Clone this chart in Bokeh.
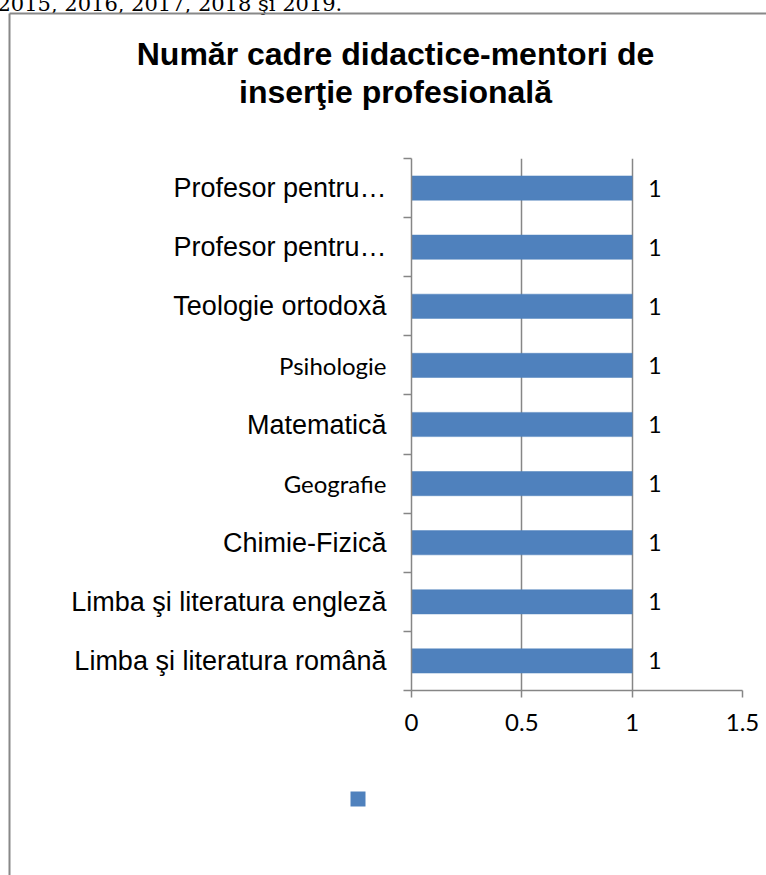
from bokeh.plotting import figure
from bokeh.models import Range1d, FixedTicker, NumeralTickFormatter, ColumnDataSource
from bokeh.core.properties import value
from bokeh.embed import file_html
from bokeh.resources import INLINE

# ---------------- data (top to bottom, as read) ----------------
categories = [
    "Profesor pentru\u2026",
    "Profesor pentru\u2026",
    "Teologie ortodox\u0103",
    "Psihologie",
    "Matematic\u0103",
    "Geografie",
    "Chimie-Fizic\u0103",
    "Limba \u015fi literatura englez\u0103",
    "Limba \u015fi literatura rom\u00e2n\u0103",
]
counts = [1, 1, 1, 1, 1, 1, 1, 1, 1]
label_fonts = ["Liberation Sans", "Liberation Sans", "Liberation Sans", "Lato",
               "Liberation Sans", "Lato", "Liberation Sans", "Liberation Sans",
               "Liberation Sans"]
label_sizes = ["27px", "27px", "27px", "24px", "27px", "24px", "27px", "27px", "27px"]
x_ticks = [0, 0.5, 1, 1.5]
title_lines = ["Num\u0103r cadre didactice-mentori de", "inser\u0163ie profesional\u0103"]
header_text = "2015, 2016, 2017, 2018 \u015fi 2019."

# ---------------- layout constants (page pixels) ----------------
W, H = 766, 875
FX0, FX1 = 411, 742      # frame left/right
FY0, FY1 = 158, 690      # frame top/bottom
n = len(categories)
XMAX = x_ticks[-1]


def px_x(px):
    return (px - FX0) / (FX1 - FX0) * XMAX


def px_y(py):
    return (FY1 - py) / (FY1 - FY0) * n


GRAY = "#868686"
BLUE = "#4F81BD"

p = figure(width=W, height=H, output_backend="svg", toolbar_location=None, tools="",
           x_range=Range1d(0, XMAX), y_range=Range1d(0, n),
           min_border_left=FX0, min_border_right=W - FX1,
           min_border_top=FY0, min_border_bottom=H - FY1)
p.outline_line_color = None
p.background_fill_color = "white"
p.border_fill_color = "white"

centers = [n - i - 0.5 for i in range(n)]
src = ColumnDataSource(dict(y=centers, v=counts, cat=categories,
                            font=label_fonts, fs=label_sizes,
                            vt=[str(c) for c in counts],
                            x0=[0] * n))

bars = p.hbar(y="y", right="v", left=0, height=0.41, source=src,
              fill_color=BLUE, line_color=BLUE, line_width=0.5)

# value labels
p.text(x="v", y="y", text="vt", source=src, x_offset=16, text_baseline="middle",
       text_align="left", text_font=value("Lato"), text_font_size="23px",
       text_color="black")

# category labels (mixed fonts as in the original)
p.text(x="x0", y="y", text="cat", source=src, x_offset=-25, text_align="right",
       text_baseline="middle", text_font="font", text_font_size="fs",
       text_color="black", level="overlay")

# axes
xa = p.xaxis[0]
xa.ticker = FixedTicker(ticks=x_ticks)
xa.formatter = NumeralTickFormatter(format="0.[0]")
xa.axis_line_color = GRAY
xa.axis_line_width = 1.5
xa.major_tick_line_color = GRAY
xa.major_tick_line_width = 1.5
xa.major_tick_in = 0
xa.major_tick_out = 7
xa.minor_tick_line_color = None
xa.major_label_text_font = "Lato"
xa.major_label_text_font_size = "24px"
xa.major_label_text_color = "black"
xa.major_label_standoff = 16

ya = p.yaxis[0]
ya.ticker = FixedTicker(ticks=list(range(n + 1)))
ya.axis_line_color = GRAY
ya.axis_line_width = 1.5
ya.major_tick_line_color = GRAY
ya.major_tick_line_width = 1.5
ya.major_tick_in = 0
ya.major_tick_out = 8
ya.minor_tick_line_color = None
ya.major_label_text_font_size = "0px"
ya.major_label_text_color = None

p.xgrid.ticker = FixedTicker(ticks=x_ticks)
p.xgrid.grid_line_color = GRAY
p.xgrid.grid_line_width = 1.5
p.ygrid.grid_line_color = None

# title
p.text(x=[px_x(395)] * 2, y=[px_y(53), px_y(91)], text=title_lines,
       text_align="center", text_baseline="alphabetic",
       text_font=value("Liberation Sans"), text_font_style="bold",
       text_font_size="32px", text_color="black", level="overlay")

# header text from the surrounding document (cut off at the top)
p.text(x=[px_x(-3)], y=[px_y(3)], text=[header_text], text_align="left",
       text_baseline="alphabetic", text_font=value("DejaVu Serif"),
       text_font_size="21px", text_color="black", level="overlay")

# chart area border (top and left edges visible)
p.segment(x0=[px_x(9), px_x(9)], y0=[px_y(13), px_y(13)],
          x1=[px_x(W + 5), px_x(9)], y1=[px_y(13), px_y(H + 5)],
          line_color="#888888", line_width=2, level="overlay")

# legend swatch (single, unlabeled series)
p.segment(x0=[px_x(350)], y0=[px_y(798.5)], x1=[px_x(365)], y1=[px_y(798.5)],
          line_color=BLUE, line_width=15, line_cap="butt", level="overlay")

open("out.html", "w").write(file_html(p, INLINE))
